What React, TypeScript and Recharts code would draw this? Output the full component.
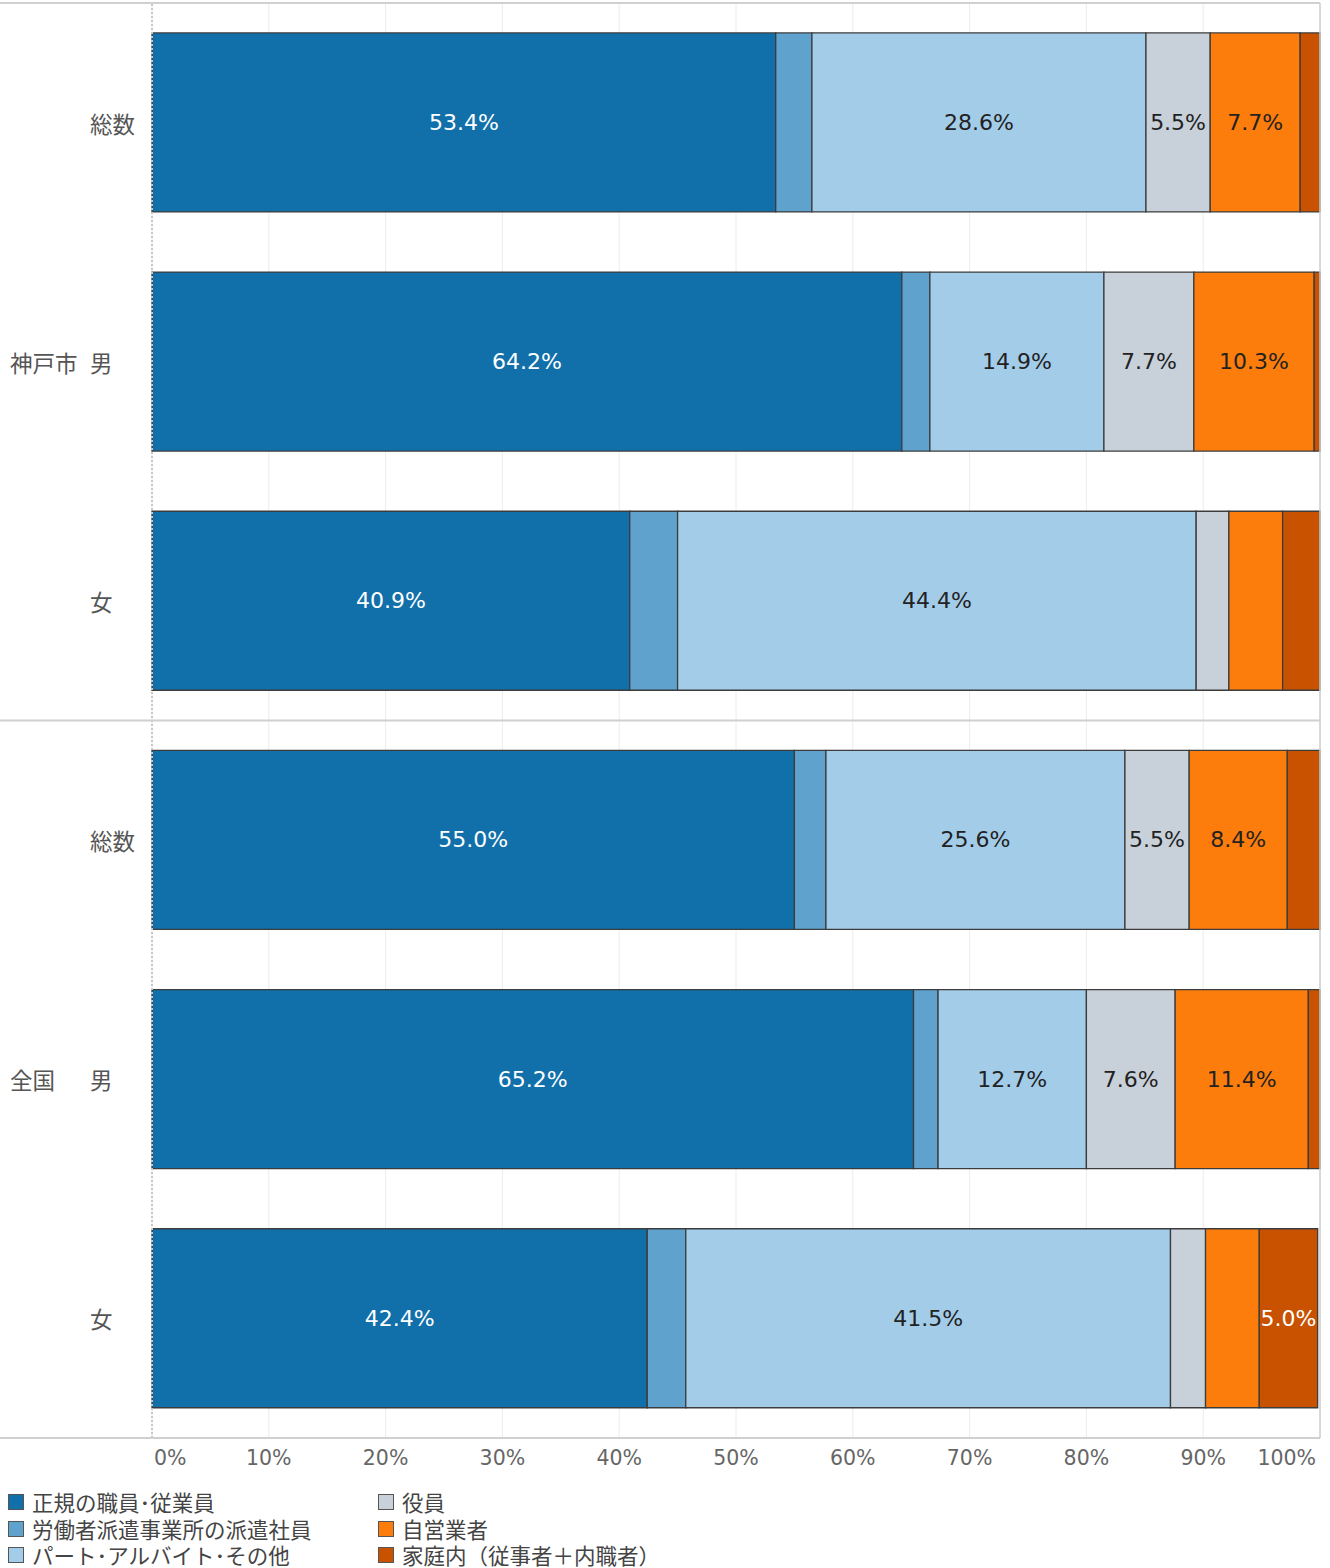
import React from "react";
import { BarChart, Bar, XAxis, YAxis, CartesianGrid, ReferenceLine, LabelList } from "recharts";

// 行ラベル
const groups = ["神戸市", "神戸市", "神戸市", "全国", "全国", "全国"];
const rows = ["総数", "男", "女", "総数", "男", "女"];

// 各区分の割合 (%)
const seiki = [53.4, 64.2, 40.9, 55.0, 65.2, 42.4];
const haken = [3.1, 2.4, 4.1, 2.7, 2.1, 3.3];
const part = [28.6, 14.9, 44.4, 25.6, 12.7, 41.5];
const yakuin = [5.5, 7.7, 2.8, 5.5, 7.6, 3.0];
const jiei = [7.7, 10.3, 4.6, 8.4, 11.4, 4.6];
const katei = [1.7, 0.5, 3.2, 2.8, 1.0, 5.0];

const xTicks = [0, 10, 20, 30, 40, 50, 60, 70, 80, 90, 100];

const series = [
  { key: "seiki", name: "正規の職員･従業員", color: "#1170aa", text: "#ffffff", values: seiki },
  { key: "haken", name: "労働者派遣事業所の派遣社員", color: "#5fa2ce", text: "#ffffff", values: haken },
  { key: "part", name: "パート･アルバイト･その他", color: "#a3cce9", text: "#222222", values: part },
  { key: "yakuin", name: "役員", color: "#c8d0d9", text: "#222222", values: yakuin },
  { key: "jiei", name: "自営業者", color: "#fc7d0b", text: "#222222", values: jiei },
  { key: "katei", name: "家庭内（従事者＋内職者）", color: "#c85200", text: "#ffffff", values: katei },
];

const data = rows.map((row, i) => {
  const item: Record<string, string | number> = { id: `${groups[i]}-${row}-${i}` };
  series.forEach((s) => {
    item[s.key] = s.values[i];
  });
  return item;
});

const W = 1330;
const CHART_H = 1482;
const MARGIN = { top: 3, right: 10, bottom: 0, left: 0 };
const Y_W = 152;
const X_H = 44;
const PLOT_TOP = MARGIN.top;
const PLOT_BOTTOM = CHART_H - MARGIN.bottom - X_H;
const PLOT_RIGHT = W - MARGIN.right;

const JP = '"Noto Sans CJK JP", "Noto Sans", sans-serif';
const NUM = '"DejaVu Sans", Verdana, sans-serif';

const YTick = (props: any) => {
  const { y, index } = props;
  const showGroup = index === 1 || index === 4;
  return (
    <g>
      {showGroup && (
        <text x={10} y={y} dominantBaseline="central" fontSize={22.5} fill="#555" fontFamily={JP}>
          {groups[index]}
        </text>
      )}
      <text x={90} y={y} dominantBaseline="central" fontSize={22.5} fill="#555" fontFamily={JP}>
        {rows[index]}
      </text>
    </g>
  );
};

const XTick = (props: any) => {
  const { x, y, payload } = props;
  const v = payload.value;
  const anchor = v === 0 ? "start" : v === 100 ? "end" : "middle";
  const dx = v === 0 ? 2 : v === 100 ? -4 : 0;
  return (
    <text x={x + dx} y={y} dy={19} textAnchor={anchor} fontSize={20.5} fill="#666" fontFamily={NUM}>
      {`${v}%`}
    </text>
  );
};

const makeLabel = (color: string) => (props: any) => {
  const { x, y, width, height, value } = props;
  if (value < 5) return null;
  return (
    <text
      x={x + width / 2}
      y={y + height / 2}
      textAnchor="middle"
      dominantBaseline="central"
      fontSize={22}
      fill={color}
      fontFamily={NUM}
    >
      {`${value.toFixed(1)}%`}
    </text>
  );
};

const Legend = () => {
  const cols = [series.slice(0, 3), series.slice(3)];
  return (
    <div style={{ position: "absolute", left: 8, top: 1489, display: "flex", fontFamily: JP }}>
      {cols.map((col, ci) => (
        <div key={ci} style={{ width: 370 }}>
          {col.map((s) => (
            <div key={s.key} style={{ display: "flex", alignItems: "center", height: 26.5 }}>
              <span
                style={{
                  width: 14,
                  height: 14,
                  background: s.color,
                  border: "1.5px solid #555",
                  display: "inline-block",
                  marginRight: 8,
                  flex: "none",
                }}
              />
              <span style={{ fontSize: 21.5, lineHeight: "24px", color: "#444", whiteSpace: "nowrap" }}>{s.name}</span>
            </div>
          ))}
        </div>
      ))}
    </div>
  );
};

export default function App() {
  const mid = (PLOT_TOP + PLOT_BOTTOM) / 2;
  return (
    <div style={{ position: "absolute", left: 0, top: 0, width: W, height: 1568, background: "#fff", overflow: "hidden" }}>
      <BarChart
        width={W}
        height={CHART_H}
        data={data}
        layout="vertical"
        margin={MARGIN}
        barCategoryGap="12.5%"
      >
        <CartesianGrid horizontal={false} stroke="#ececec" strokeWidth={1} />
        <XAxis
          type="number"
          domain={[0, 100]}
          ticks={xTicks}
          height={X_H}
          axisLine={false}
          tickLine={false}
          tick={<XTick />}
          interval={0}
        />
        <YAxis type="category" dataKey="id" width={Y_W} axisLine={false} tickLine={false} tick={<YTick />} />
        <ReferenceLine x={0} stroke="#c8c8c8" strokeDasharray="2 2" strokeWidth={2} />
        {series.map((s) => (
          <Bar
            key={s.key}
            dataKey={s.key}
            name={s.name}
            stackId="a"
            fill={s.color}
            stroke="#3c3c3c"
            strokeWidth={1.3}
            isAnimationActive={false}
          >
            <LabelList dataKey={s.key} content={makeLabel(s.text)} />
          </Bar>
        ))}
      </BarChart>
      <svg
        width={W}
        height={CHART_H}
        style={{ position: "absolute", left: 0, top: 0, pointerEvents: "none" }}
      >
        <line x1={0} x2={PLOT_RIGHT} y1={PLOT_TOP} y2={PLOT_TOP} stroke="#d0d0d0" strokeWidth={2} />
        <line x1={0} x2={PLOT_RIGHT} y1={mid} y2={mid} stroke="#d0d0d0" strokeWidth={2} />
        <line x1={0} x2={PLOT_RIGHT} y1={PLOT_BOTTOM} y2={PLOT_BOTTOM} stroke="#d0d0d0" strokeWidth={2} />
        <line x1={PLOT_RIGHT} x2={PLOT_RIGHT} y1={PLOT_TOP} y2={PLOT_BOTTOM} stroke="#d0d0d0" strokeWidth={1.5} />
      </svg>
      <Legend />
    </div>
  );
}
